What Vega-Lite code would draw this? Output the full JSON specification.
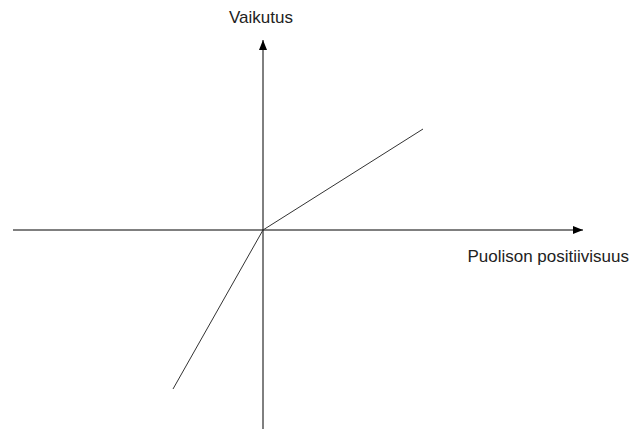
{
  "$schema": "https://vega.github.io/schema/vega-lite/v6.json",
  "width": 631,
  "height": 432,
  "autosize": {"type": "fit", "contains": "padding"},
  "padding": 0,
  "background": "white",
  "config": {"view": {"stroke": null}},
  "datasets": {
    "axes": [
      {"axis": "horizontal", "x": -250, "y": 0, "order": 1},
      {"axis": "horizontal", "x": 320, "y": 0, "order": 2},
      {"axis": "vertical", "x": 0, "y": -199, "order": 1},
      {"axis": "vertical", "x": 0, "y": 190, "order": 2}
    ],
    "effect": [
      {"x": -90, "y": -159},
      {"x": 0, "y": 0},
      {"x": 160, "y": 101}
    ],
    "heads": [
      {"dir": "right", "x": 320, "y": 0},
      {"dir": "up", "x": 0, "y": 190}
    ],
    "labels": [
      {"label": "Vaikutus", "x": -2, "y": 212, "align": "center"},
      {"label": "Puolison positiivisuus", "x": 366, "y": -27, "align": "right"}
    ]
  },
  "layer": [
    {
      "data": {"name": "axes"},
      "mark": {"type": "line", "color": "black", "strokeWidth": 1},
      "encoding": {
        "x": {"field": "x", "type": "quantitative", "scale": {"domain": [-263, 368], "nice": false, "zero": false}, "axis": null},
        "y": {"field": "y", "type": "quantitative", "scale": {"domain": [-202, 230], "nice": false, "zero": false}, "axis": null},
        "detail": {"field": "axis"},
        "order": {"field": "order"}
      }
    },
    {
      "data": {"name": "effect"},
      "mark": {"type": "line", "color": "#333333", "strokeWidth": 1},
      "encoding": {
        "x": {"field": "x", "type": "quantitative"},
        "y": {"field": "y", "type": "quantitative"}
      }
    },
    {
      "data": {"name": "heads"},
      "transform": [{"filter": "datum.dir === 'up'"}],
      "mark": {"type": "point", "shape": "M0,0L-0.8,2L0.8,2Z", "size": 100, "filled": true, "color": "black", "opacity": 1},
      "encoding": {
        "x": {"field": "x", "type": "quantitative"},
        "y": {"field": "y", "type": "quantitative"}
      }
    },
    {
      "data": {"name": "heads"},
      "transform": [{"filter": "datum.dir === 'right'"}],
      "mark": {"type": "point", "shape": "M0,0L-2,-0.8L-2,0.8Z", "size": 100, "filled": true, "color": "black", "opacity": 1},
      "encoding": {
        "x": {"field": "x", "type": "quantitative"},
        "y": {"field": "y", "type": "quantitative"}
      }
    },
    {
      "data": {"name": "labels"},
      "transform": [{"filter": "datum.align === 'center'"}],
      "mark": {"type": "text", "font": "Liberation Sans", "fontSize": 17, "align": "center", "baseline": "middle", "color": "#222222"},
      "encoding": {
        "x": {"field": "x", "type": "quantitative"},
        "y": {"field": "y", "type": "quantitative"},
        "text": {"field": "label"}
      }
    },
    {
      "data": {"name": "labels"},
      "transform": [{"filter": "datum.align === 'right'"}],
      "mark": {"type": "text", "font": "Liberation Sans", "fontSize": 17, "align": "right", "baseline": "middle", "color": "#222222"},
      "encoding": {
        "x": {"field": "x", "type": "quantitative"},
        "y": {"field": "y", "type": "quantitative"},
        "text": {"field": "label"}
      }
    }
  ]
}
